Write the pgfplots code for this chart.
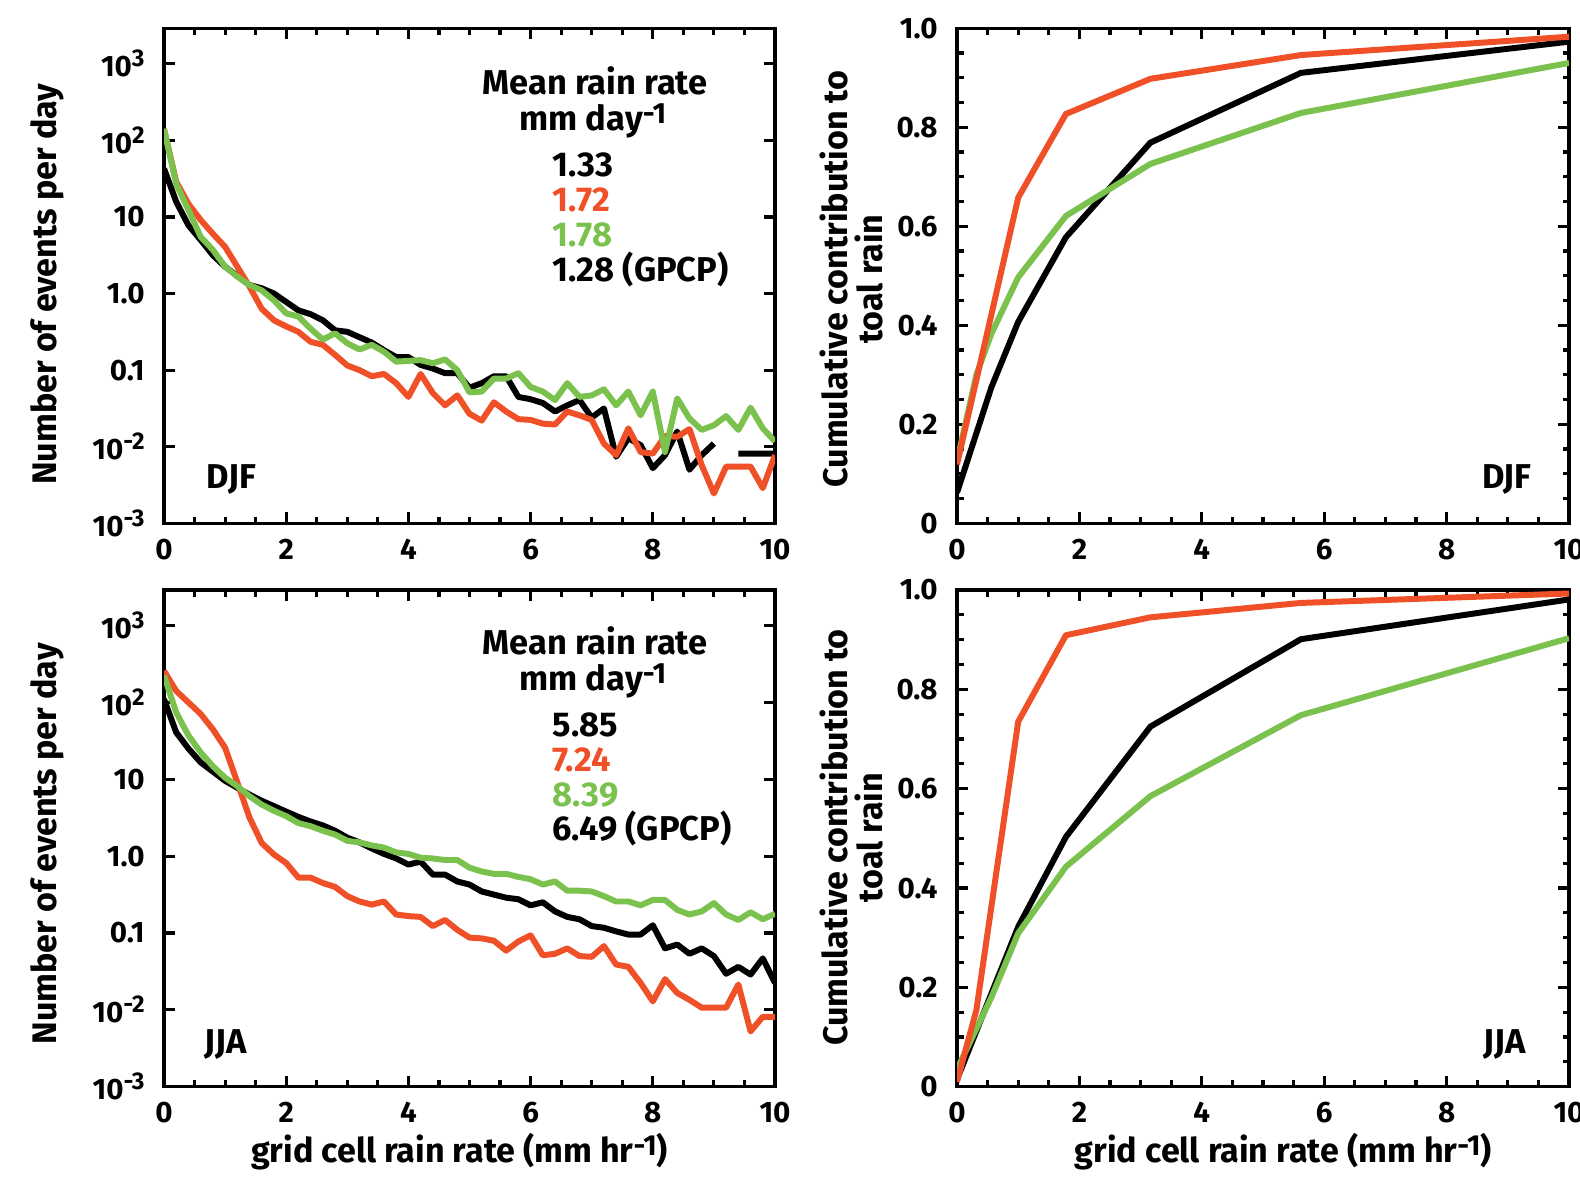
\documentclass[border=0pt]{standalone}
\usepackage{fontspec}
\setmainfont{Fira Sans}
\usepackage{graphicx}
\usepackage{pgfplots}
\pgfplotsset{compat=1.18}
\definecolor{cred}{RGB}{240,80,40}
\definecolor{cgreen}{RGB}{122,193,78}
\newcommand{\sups}[1]{\raisebox{0.2em}{\scalebox{0.85}{#1}}}
\newcommand{\tsup}[1]{\raisebox{0.34em}{\scalebox{0.82}{#1}}}
\pgfplotsset{
  myBase/.style={
    scale only axis,
    xmin=0, xmax=10,
    xtick={0,2,4,6,8,10},
    xticklabels={0,2,4,6,8,10},
    minor x tick num=3,
    tick align=inside,
    xtick pos=both, ytick pos=both,
    xticklabel pos=lower, yticklabel pos=left,
    major tick length=1.1mm,
    minor tick length=0.65mm,
    tick style={black, line width=0.9pt},
    axis line style={line width=0.9pt},
    tick label style={font=\fontsize{8.4}{10}\selectfont\bfseries},
    xticklabel style={yshift=-0.3mm},
    yticklabel style={xshift=-0.7mm},
    label style={font=\fontsize{9.7}{10}\selectfont\bfseries},
    every axis plot/.append style={line width=1.7pt, line join=round, no markers},
    unbounded coords=jump,
  },
  myLeft/.style={myBase, ymin=1e-3, ymax=2900,
    ytick={0.001,0.01,0.1,1,10,100,1000},
    yticklabels={10\tsup{-3},10\tsup{-2},0.1,1.0,10,10\tsup{2},10\tsup{3}},
    yminorticks=false,
    ylabel={Number of events per day}},
  myRight/.style={myBase, ymin=0, ymax=1,
    ytick={0,0.2,0.4,0.6,0.8,1.0},
    yticklabels={0,0.2,0.4,0.6,0.8,1.0},
    minor y tick num=3,
    ylabel={Cumulative contribution to\\toal rain},
    ylabel style={align=center}},
}
\tikzset{ann/.style={font=\fontsize{9.8}{11}\selectfont\bfseries, inner sep=0pt}}
\begin{document}
\begin{tikzpicture}
\useasboundingbox (0,0) rectangle (158mm,118.2mm);
% ---------------- top left (DJF histogram)
\begin{semilogyaxis}[myLeft, at={(16.4mm,65.87mm)}, anchor=south west, width=61.1mm, height=49.5mm,
  ylabel style={at={(axis description cs:-0.1915,0.483)}, anchor=center}]
\addplot[black] coordinates {(0,42.7)(0.2,15.8)(0.4,7.76)(0.6,5.01)(0.8,3.16)(1.0,2.24)(1.2,1.70)(1.4,1.29)(1.6,1.17)(1.8,1.0)(2.0,0.776)(2.2,0.603)(2.4,0.537)(2.6,0.447)(2.8,0.331)(3.0,0.316)(3.2,0.269)(3.4,0.229)(3.6,0.182)(3.8,0.148)(4.0,0.148)(4.2,0.117)(4.4,0.105)(4.6,0.0912)(4.8,0.0912)(5.0,0.0589)(5.2,0.0676)(5.4,0.0832)(5.6,0.0832)(5.8,0.0447)(6.0,0.0417)(6.2,0.0372)(6.4,0.0288)(6.6,0.0347)(6.8,0.0407)(7.0,0.0240)(7.2,0.0316)(7.4,0.00741)(7.6,0.0129)(7.8,0.0105)(8.0,0.00525)(8.2,0.00776)(8.4,0.0158)(8.6,0.00501)(8.8,0.00776)(9.0,0.0110)(9.2,nan)(9.4,0.00813)(9.6,0.00813)(9.8,0.00813)(10,0.00813)};
\addplot[cred] coordinates {(0,141)(0.2,28.8)(0.4,14.8)(0.6,9.12)(0.8,6.03)(1.0,4.07)(1.2,2.24)(1.4,1.23)(1.6,0.631)(1.8,0.447)(2.0,0.372)(2.2,0.316)(2.4,0.234)(2.6,0.214)(2.8,0.158)(3.0,0.115)(3.2,0.100)(3.4,0.0832)(3.6,0.0891)(3.8,0.0676)(4.0,0.0447)(4.2,0.0891)(4.4,0.0501)(4.6,0.0347)(4.8,0.0468)(5.0,0.0269)(5.2,0.0219)(5.4,0.0380)(5.6,0.0288)(5.8,0.0229)(6.0,0.0224)(6.2,0.0200)(6.4,0.0195)(6.6,0.0288)(6.8,0.0257)(7.0,0.0224)(7.2,0.0110)(7.4,0.00776)(7.6,0.0174)(7.8,0.00851)(8.0,0.00813)(8.2,0.0138)(8.4,0.0135)(8.6,0.0170)(8.8,0.00575)(9.0,0.00245)(9.2,0.00550)(9.4,0.00550)(9.6,0.00550)(9.8,0.00288)(10,0.00776)};
\addplot[cgreen] coordinates {(0,141)(0.2,26.9)(0.4,12.3)(0.6,5.50)(0.8,3.72)(1.0,2.24)(1.2,1.66)(1.4,1.29)(1.6,1.10)(1.8,0.813)(2.0,0.550)(2.2,0.501)(2.4,0.347)(2.6,0.251)(2.8,0.302)(3.0,0.224)(3.2,0.186)(3.4,0.214)(3.6,0.174)(3.8,0.129)(4.0,0.132)(4.2,0.135)(4.4,0.123)(4.6,0.138)(4.8,0.100)(5.0,0.0513)(5.2,0.0525)(5.4,0.0776)(5.6,0.0776)(5.8,0.0912)(6.0,0.0603)(6.2,0.0525)(6.4,0.0407)(6.6,0.0676)(6.8,0.0447)(7.0,0.0468)(7.2,0.0562)(7.4,0.0347)(7.6,0.0525)(7.8,0.0257)(8.0,0.0525)(8.2,0.00851)(8.4,0.0427)(8.6,0.0234)(8.8,0.0166)(9.0,0.0191)(9.2,0.0251)(9.4,0.0166)(9.6,0.0324)(9.8,0.0174)(10,0.0117)};
\node[ann, anchor=base] at (axis description cs:0.7054,0.867) {Mean rain rate};
\node[ann, anchor=base] at (axis description cs:0.702,0.793) {mm day\sups{-1}};
\node[ann, anchor=base west] at (axis description cs:0.635,0.700) {1.33};
\node[ann, anchor=base west, text=cred] at (axis description cs:0.635,0.6295) {1.72};
\node[ann, anchor=base west, text=cgreen] at (axis description cs:0.635,0.5588) {1.78};
\node[ann, anchor=base west] at (axis description cs:0.635,0.4895) {1.28 (GPCP)};
\node[ann, anchor=base west] at (axis description cs:0.0687,0.0707) {DJF};
\end{semilogyaxis}
% ---------------- top right (DJF cumulative)
\begin{axis}[myRight, at={(95.7mm,65.87mm)}, anchor=south west, width=61.2mm, height=49.5mm,
  ylabel style={at={(axis description cs:-0.173,0.4935)}, anchor=center}]
\addplot[black] coordinates {(0,0.062)(0.562,0.275)(1.0,0.407)(1.78,0.578)(3.16,0.769)(5.62,0.910)(10,0.973)};
\addplot[cgreen] coordinates {(0,0.125)(0.316,0.30)(0.562,0.383)(1.0,0.497)(1.78,0.621)(3.16,0.726)(5.62,0.829)(10,0.930)};
\addplot[cred] coordinates {(0,0.119)(1.0,0.658)(1.78,0.827)(3.16,0.898)(5.62,0.946)(10,0.983)};
\node[ann, anchor=base east] at (axis description cs:0.94,0.0707) {DJF};
\end{axis}
% ---------------- bottom left (JJA histogram)
\begin{semilogyaxis}[myLeft, at={(16.4mm,9.53mm)}, anchor=south west, width=61.1mm, height=49.67mm,
  ylabel style={at={(axis description cs:-0.1915,0.489)}, anchor=center},
  xlabel={grid cell rain rate (mm hr\sups{-1})},
  xlabel style={at={(axis description cs:0.4836,-0.153)}, anchor=base}]
\addplot[black] coordinates {(0,110)(0.2,40.7)(0.4,25.1)(0.6,16.6)(0.8,12.6)(1.0,9.55)(1.2,7.76)(1.4,6.31)(1.6,5.25)(1.8,4.47)(2.0,3.80)(2.2,3.24)(2.4,2.82)(2.6,2.51)(2.8,2.14)(3.0,1.74)(3.2,1.51)(3.4,1.26)(3.6,1.07)(3.8,0.933)(4.0,0.776)(4.2,0.851)(4.4,0.575)(4.6,0.575)(4.8,0.468)(5.0,0.427)(5.2,0.347)(5.4,0.316)(5.6,0.288)(5.8,0.275)(6.0,0.229)(6.2,0.251)(6.4,0.191)(6.6,0.162)(6.8,0.151)(7.0,0.123)(7.2,0.117)(7.4,0.105)(7.6,0.0955)(7.8,0.0955)(8.0,0.126)(8.2,0.0631)(8.4,0.0708)(8.6,0.0537)(8.8,0.0631)(9.0,0.0501)(9.2,0.0295)(9.4,0.0363)(9.6,0.0288)(9.8,0.0468)(10,0.0224)};
\addplot[cred] coordinates {(0,257)(0.2,141)(0.4,100)(0.6,70.8)(0.8,44.7)(1.0,25.7)(1.2,9.12)(1.4,3.16)(1.6,1.48)(1.8,1.05)(2.0,0.813)(2.2,0.525)(2.4,0.525)(2.6,0.447)(2.8,0.398)(3.0,0.302)(3.2,0.257)(3.4,0.234)(3.6,0.257)(3.8,0.174)(4.0,0.166)(4.2,0.162)(4.4,0.123)(4.6,0.148)(4.8,0.110)(5.0,0.0871)(5.2,0.0851)(5.4,0.0794)(5.6,0.0589)(5.8,0.0776)(6.0,0.0933)(6.2,0.0513)(6.4,0.0537)(6.6,0.0631)(6.8,0.0501)(7.0,0.0490)(7.2,0.0676)(7.4,0.0389)(7.6,0.0363)(7.8,0.0224)(8.0,0.0129)(8.2,0.0251)(8.4,0.0166)(8.6,0.0135)(8.8,0.0107)(9.0,0.0107)(9.2,0.0107)(9.4,0.0214)(9.6,0.00525)(9.8,0.00813)(10,0.00813)};
\addplot[cgreen] coordinates {(0,224)(0.2,74.1)(0.4,37.2)(0.6,22.4)(0.8,14.8)(1.0,10.5)(1.2,8.13)(1.4,6.03)(1.6,4.68)(1.8,3.89)(2.0,3.31)(2.2,2.69)(2.4,2.45)(2.6,2.14)(2.8,1.91)(3.0,1.58)(3.2,1.51)(3.4,1.38)(3.6,1.29)(3.8,1.12)(4.0,1.07)(4.2,0.955)(4.4,0.933)(4.6,0.891)(4.8,0.891)(5.0,0.708)(5.2,0.631)(5.4,0.589)(5.6,0.589)(5.8,0.537)(6.0,0.501)(6.2,0.427)(6.4,0.468)(6.6,0.355)(6.8,0.355)(7.0,0.347)(7.2,0.302)(7.4,0.257)(7.6,0.257)(7.8,0.229)(8.0,0.269)(8.2,0.269)(8.4,0.200)(8.6,0.174)(8.8,0.191)(9.0,0.245)(9.2,0.174)(9.4,0.148)(9.6,0.186)(9.8,0.151)(10,0.178)};
\node[ann, anchor=base] at (axis description cs:0.7054,0.871) {Mean rain rate};
\node[ann, anchor=base] at (axis description cs:0.702,0.797) {mm day\sups{-1}};
\node[ann, anchor=base west] at (axis description cs:0.635,0.705) {5.85};
\node[ann, anchor=base west, text=cred] at (axis description cs:0.635,0.634) {7.24};
\node[ann, anchor=base west, text=cgreen] at (axis description cs:0.635,0.564) {8.39};
\node[ann, anchor=base west] at (axis description cs:0.635,0.495) {6.49 (GPCP)};
\node[ann, anchor=base west] at (axis description cs:0.065,0.067) {JJA};
\end{semilogyaxis}
% ---------------- bottom right (JJA cumulative)
\begin{axis}[myRight, at={(95.7mm,9.53mm)}, anchor=south west, width=61.2mm, height=49.67mm,
  ylabel style={at={(axis description cs:-0.173,0.5017)}, anchor=center},
  xlabel={grid cell rain rate (mm hr\sups{-1})},
  xlabel style={at={(axis description cs:0.533,-0.153)}, anchor=base}]
\addplot[black] coordinates {(0,0.015)(1.0,0.322)(1.78,0.503)(3.16,0.725)(5.62,0.901)(10,0.981)};
\addplot[cgreen] coordinates {(0,0.035)(0.562,0.18)(1.0,0.309)(1.78,0.443)(3.16,0.585)(5.62,0.748)(10,0.903)};
\addplot[cred] coordinates {(0,0.01)(0.316,0.154)(1.0,0.735)(1.78,0.909)(3.16,0.945)(5.62,0.974)(10,0.993)};
\node[ann, anchor=base east] at (axis description cs:0.93,0.067) {JJA};
\end{axis}
\end{tikzpicture}
\end{document}
